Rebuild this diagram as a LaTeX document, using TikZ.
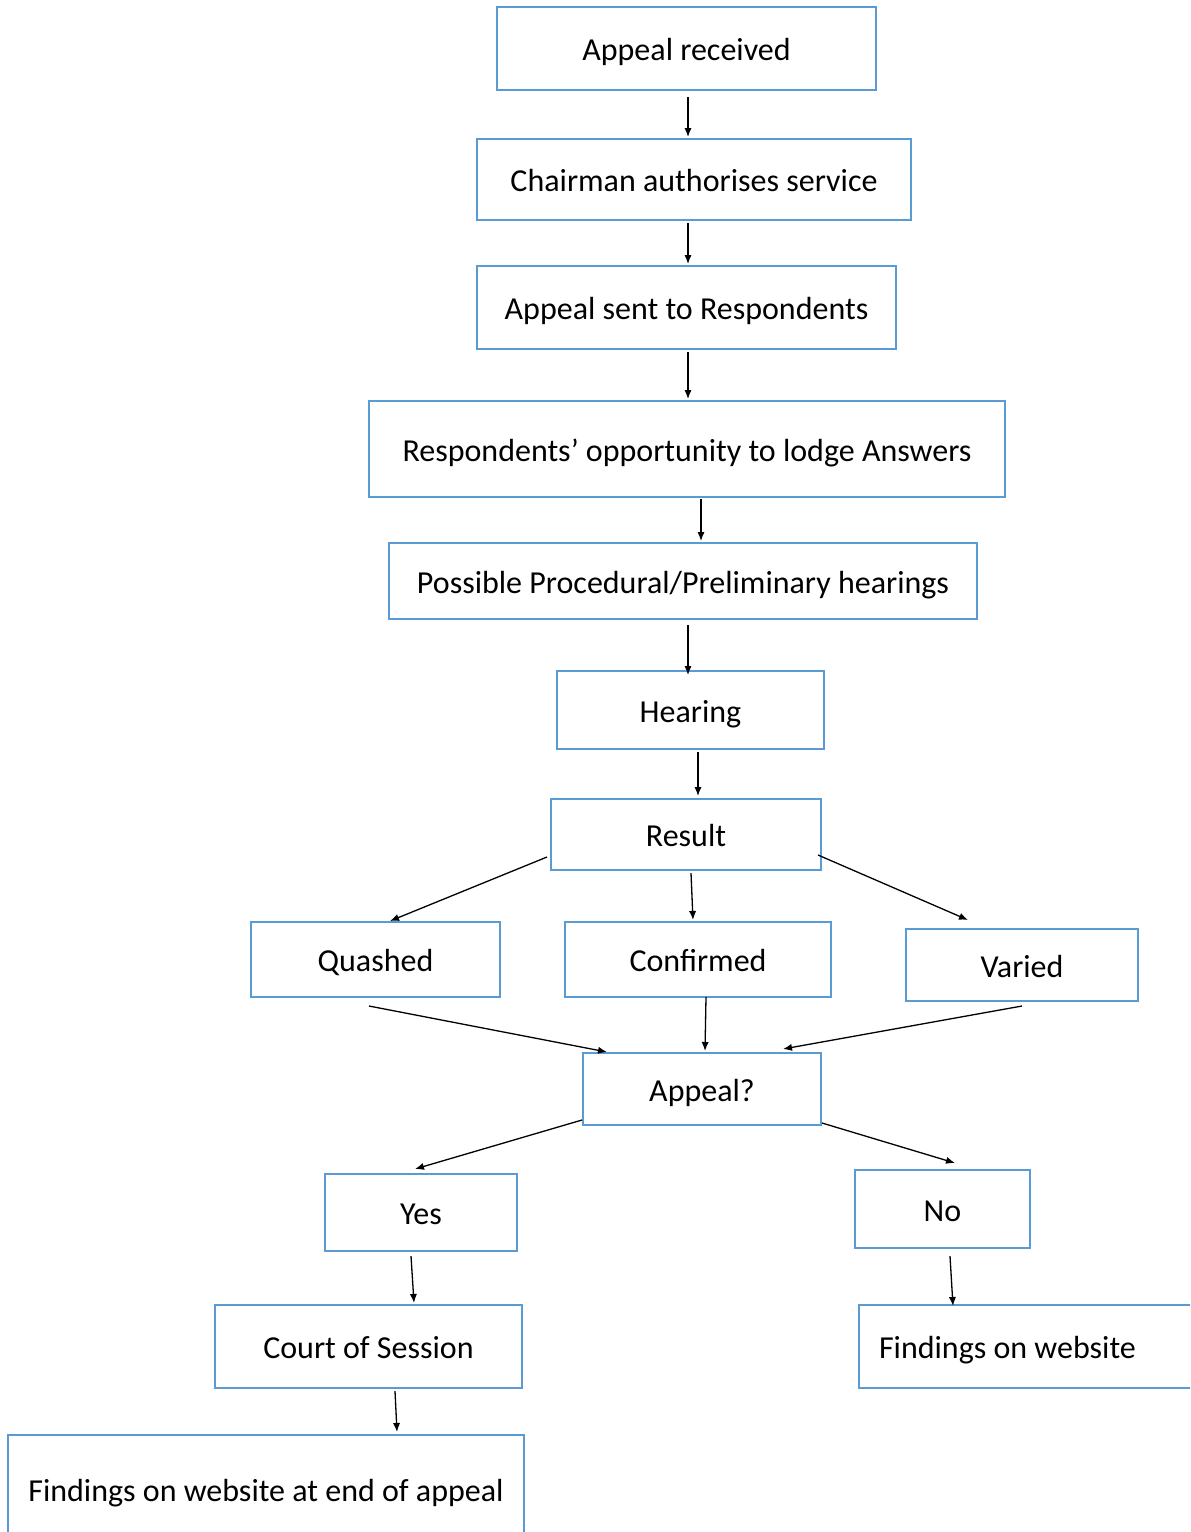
\documentclass[tikz,border=0pt]{standalone}
\usepackage{fontspec}
\setmainfont{Carlito}
\usetikzlibrary{arrows.meta,calc}

\definecolor{boxblue}{RGB}{91,155,213}

\tikzset{
  box/.style={draw=boxblue, line width=1pt, inner sep=0pt, text height=13pt, text depth=1pt,
    font=\fontsize{16}{19}\selectfont},
  arr/.style={-{Latex[length=4.5pt,width=3.6pt]}, line width=0.65pt}
}

\begin{document}
\begin{tikzpicture}[x=0.5pt,y=-0.5pt]
\useasboundingbox (0,0) rectangle (1190,1532);
\clip (0,0) rectangle (1190,1532);

% main column
\node[box, minimum width=189.5pt, minimum height=41.5pt] (rec) at (686.5,48.5) {Appeal received};
\node[box, minimum width=217pt, minimum height=40.5pt] (chair) at (694,179.5) {Chairman authorises service};
\node[box, minimum width=209.5pt, minimum height=41.5pt] (sent) at (686.5,307.5) {Appeal sent to Respondents};
\node[box, minimum width=318pt, minimum height=48pt] (opp) at (687,449) {Respondents’ opportunity to lodge Answers};
\node[box, minimum width=294pt, minimum height=38pt] (poss) at (683,581) {Possible Procedural/Preliminary hearings};
\node[box, minimum width=133.5pt, minimum height=39pt] (hear) at (690.5,710) {Hearing};
\node[box, minimum width=135pt, minimum height=35.5pt] (res) at (686,834.5) {Result};

% outcomes
\node[box, minimum width=124.5pt, minimum height=37.5pt] (quash) at (375.5,959.5) {Quashed};
\node[box, minimum width=133pt, minimum height=37.5pt] (conf) at (698,959.5) {Confirmed};
\node[box, minimum width=116pt, minimum height=36pt] (var) at (1022,965) {Varied};

\node[box, minimum width=119pt, minimum height=36pt] (app) at (702,1089) {Appeal?};
\node[box, minimum width=96pt, minimum height=38.5pt] (yes) at (421,1212.5) {Yes};
\node[box, minimum width=87.5pt, minimum height=39pt] (no) at (942.5,1209) {No};

\node[box, minimum width=153.5pt, minimum height=41.5pt] (court) at (368.5,1346.5) {Court of Session};
\node[box, anchor=west, minimum height=41.5pt, inner xsep=10pt, text width=151pt, align=flush left] (web) at (858,1346.5) {Findings on website};
\node[box, minimum width=258pt, minimum height=54pt] (fin) at (266,1489) {Findings on website at end of appeal};

% arrows
\draw[arr] ($(rec.south)+(1.5,6)$) -- ($(chair.north)+(-6,-1)$);
\draw[arr] ($(chair.south)+(-6,2)$) -- ($(sent.north)+(1.5,-1)$);
\draw[arr] ($(sent.south)+(1.5,2)$) -- ($(opp.north)+(1,-1)$);
\draw[arr] ($(opp.south)+(14,1)$) -- ($(poss.north)+(18,-1)$);
\draw[arr] ($(poss.south)+(5,5)$) -- ($(hear.north)+(-2.5,5)$);
\draw[arr] ($(hear.south)+(7.5,2)$) -- ($(res.north)+(12,-2)$);

\draw[arr] ($(res.west)+(-3,22.5)$) -- ($(quash.north)+(14.5,0)$);
\draw[arr] ($(res.south)+(5,2)$) -- ($(conf.north)+(-5,-1)$);
\draw[arr] ($(res.east)+(-4,20.5)$) -- ($(var.north)+(-54,-8)$);

\draw[arr] ($(quash.south)+(-6.5,8)$) -- ($(app.north)+(-95,0)$);
\draw[arr] ($(conf.south)+(8,-1)$) -- ($(app.north)+(3,-1)$);
\draw[arr] ($(var.south)+(0,4)$) -- ($(app.north)+(81,-3)$);

\draw[arr] ($(app.south west)+(0,-6)$) -- ($(yes.north)+(-6,-4)$);
\draw[arr] ($(app.south east)+(0,-3)$) -- ($(no.north)+(12.5,-6)$);

\draw[arr] ($(yes.south)+(-10,4)$) -- ($(court.north)+(45.5,-1)$);
\draw[arr] ($(no.south)+(7.5,7)$) -- ($(web.north west)+(95,2)$);
\draw[arr] ($(court.south)+(26.5,2)$) -- ($(fin.north)+(131,-2)$);
\end{tikzpicture}
\end{document}
